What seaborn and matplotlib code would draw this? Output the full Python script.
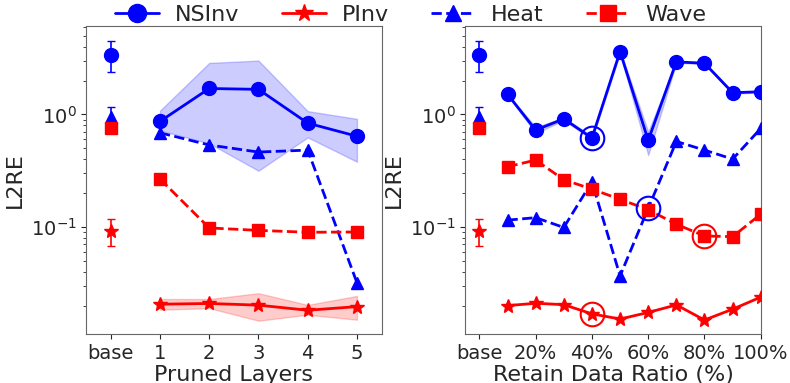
import numpy as np
import pandas as pd
import matplotlib
matplotlib.use('Agg')
import matplotlib.pyplot as plt
from matplotlib.lines import Line2D
import seaborn as sns

# baseline (unpruned / full data) values with error bars
base_labels = ['NSInv', 'PInv', 'Heat', 'Wave']
base_mean = [3.4, 0.092, 0.95, 0.76]
base_low = [2.4, 0.068, 0.80, 0.76]
base_high = [4.5, 0.117, 1.17, 0.76]

# left: pruned layers
layers = [1, 2, 3, 4, 5]
layers_nsinv = [0.867, 1.70, 1.67, 0.837, 0.64]
layers_nsinv_lo = [0.72, 0.553, 0.316, 0.625, 0.38]
layers_nsinv_hi = [1.08, 2.87, 3.01, 1.07, 0.914]
layers_pinv = [0.0206, 0.0209, 0.0202, 0.0182, 0.0196]
layers_pinv_lo = [0.0184, 0.019, 0.0147, 0.0166, 0.015]
layers_pinv_hi = [0.0229, 0.0229, 0.0258, 0.0203, 0.0244]
layers_heat = [0.687, 0.535, 0.463, 0.482, 0.032]
layers_wave = [0.267, 0.098, 0.0933, 0.0897, 0.0903]

# right: retain data ratio (%)
ratio = [10, 20, 30, 40, 50, 60, 70, 80, 90, 100]
ratio_nsinv = [1.51, 0.726, 0.914, 0.617, 3.62, 0.588, 2.93, 2.85, 1.56, 1.59]
ratio_nsinv_lo = [1.49, 0.68, 0.89, 0.60, 3.5, 0.435, 2.88, 2.80, 1.53, 1.57]
ratio_nsinv_hi = [1.53, 0.77, 0.94, 0.64, 3.7, 0.70, 2.98, 2.90, 1.59, 1.61]
ratio_pinv = [0.020, 0.021, 0.0204, 0.0169, 0.0152, 0.0174, 0.0203, 0.0149, 0.0186, 0.0238]
ratio_heat = [0.115, 0.121, 0.099, 0.252, 0.0367, 0.1466, 0.575, 0.482, 0.401, 0.751]
ratio_wave = [0.343, 0.393, 0.263, 0.217, 0.176, 0.1425, 0.1057, 0.0832, 0.082, 0.13]

# highlighted (chosen) ratio per dataset
pick_ratio = {'NSInv': 40, 'PInv': 40, 'Heat': 60, 'Wave': 80}

sns.set_style('ticks')
plt.rcParams['font.family'] = ['DejaVu Sans']

styles = {
    'NSInv': dict(color='blue', marker='o', linestyle='-', ms=10),
    'PInv': dict(color='red', marker='*', linestyle='-', ms=10),
    'Heat': dict(color='blue', marker='^', linestyle='--', ms=9),
    'Wave': dict(color='red', marker='s', linestyle='--', ms=8.5),
}

fig = plt.figure(figsize=(7.9, 3.83), dpi=100)
ax1 = fig.add_axes([0.109, 0.128, 0.374, 0.804])
ax2 = fig.add_axes([0.589, 0.128, 0.374, 0.804], sharey=ax1)


def draw_base(ax, xpos):
    for name, m, lo, hi in zip(base_labels, base_mean, base_low, base_high):
        st = styles[name]
        ax.errorbar([xpos], [m], yerr=[[m - lo], [hi - m]], color=st['color'],
                    marker=st['marker'], ms=st['ms'], capsize=3, elinewidth=1.2,
                    linestyle='none', zorder=3)


def draw_lines(ax, x, series):
    for name, y in series.items():
        st = styles[name]
        df = pd.DataFrame({'x': x, 'y': y})
        sns.lineplot(data=df, x='x', y='y', ax=ax, color=st['color'], marker=st['marker'],
                     linestyle=st['linestyle'], markersize=st['ms'], linewidth=2,
                     markeredgecolor=st['color'], markeredgewidth=1, clip_on=True, zorder=3)


# left panel
draw_base(ax1, 0)
ax1.fill_between(layers, layers_nsinv_lo, layers_nsinv_hi, color='blue', alpha=0.2, linewidth=1)
ax1.fill_between(layers, layers_pinv_lo, layers_pinv_hi, color='red', alpha=0.2, linewidth=1)
draw_lines(ax1, layers, {'NSInv': layers_nsinv, 'Heat': layers_heat,
                         'Wave': layers_wave, 'PInv': layers_pinv})
ax1.set_xlim(-0.5, 5.5)
ax1.set_xticks([0, 1, 2, 3, 4, 5])
ax1.set_xticklabels(['base', '1', '2', '3', '4', '5'])
ax1.set_xlabel('Pruned Layers', fontsize=16, labelpad=2)

# right panel
draw_base(ax2, 0)
ax2.fill_between(ratio, ratio_nsinv_lo, ratio_nsinv_hi, color='blue', alpha=0.2, linewidth=1)
series = {'NSInv': ratio_nsinv, 'Heat': ratio_heat, 'Wave': ratio_wave, 'PInv': ratio_pinv}
draw_lines(ax2, ratio, series)
for name, y in series.items():
    xi = pick_ratio[name]
    yi = y[ratio.index(xi)]
    ax2.plot([xi], [yi], marker='o', ms=17, mfc='none', mec=styles[name]['color'],
             mew=1.5, linestyle='none', zorder=4)
ax2.set_xlim(-5, 100)
ax2.set_xticks([0, 20, 40, 60, 80, 100])
ax2.set_xticklabels(['base', '20%', '40%', '60%', '80%', '100%'])
ax2.set_xlabel('Retain Data Ratio (%)', fontsize=16, labelpad=2)

for ax in (ax1, ax2):
    ax.set_yscale('log')
    ax.set_ylim(0.0112, 6.1)
    ax.set_ylabel('L2RE', fontsize=16)
    ax.tick_params(axis='both', labelsize=14)
    for s in ax.spines.values():
        s.set_color('0.4')
ax2.tick_params(labelleft=True)

handles = [Line2D([], [], color=styles[n]['color'], marker=styles[n]['marker'],
                  linestyle=styles[n]['linestyle'], lw=2, ms=styles[n]['ms'] + 3)
           for n in ['NSInv', 'PInv', 'Heat', 'Wave']]
fig.legend(handles, ['NSInv', 'PInv', 'Heat', 'Wave'], loc='center',
           bbox_to_anchor=(0.52, 0.962), ncol=4, frameon=False, fontsize=16,
           handlelength=2.0, handletextpad=0.7, columnspacing=1.9)

fig.savefig('out.png', dpi=100)
